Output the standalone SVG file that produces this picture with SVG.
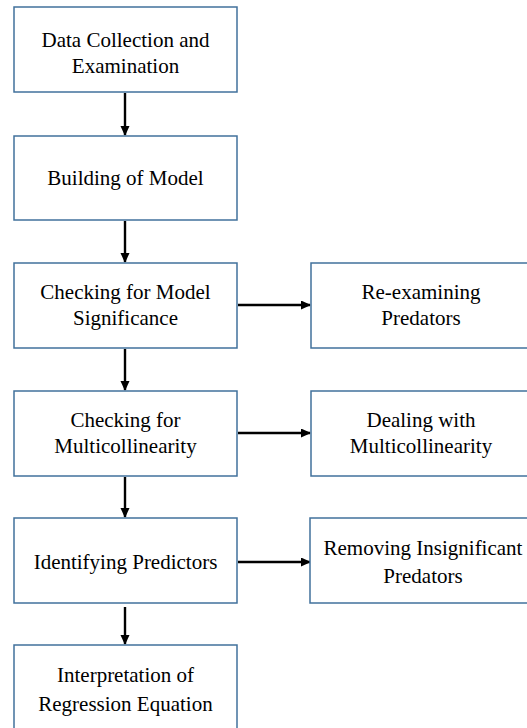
<svg xmlns="http://www.w3.org/2000/svg" width="527" height="728" viewBox="0 0 527 728">
<defs>
<marker id="ah" markerWidth="10" markerHeight="10" refX="9" refY="4.5" orient="auto" markerUnits="userSpaceOnUse">
<path d="M0,0 L10,4.5 L0,9 Z" fill="#000"/>
</marker>
</defs>
<rect width="527" height="728" fill="#fff"/>
<g id="connectors" stroke="#000" stroke-width="2.4" fill="none" marker-end="url(#ah)">
<path d="M125,93 V135"/>
<path d="M125,221 V262"/>
<path d="M125,349 V390"/>
<path d="M125,477 V517"/>
<path d="M125,607 V644"/>
<path d="M238,305 H310"/>
<path d="M238,433 H310"/>
<path d="M238,562 H310"/>
</g>
<g id="n1"><rect fill="#fff" stroke="#41719c" stroke-width="1.5" x="14" y="7" width="223" height="85"/><text font-family="Liberation Serif" font-size="21" text-anchor="middle" x="125.5" y="47">Data Collection and</text><text font-family="Liberation Serif" font-size="21" text-anchor="middle" x="125.5" y="73">Examination</text></g>
<g id="n2"><rect fill="#fff" stroke="#41719c" stroke-width="1.5" x="14" y="136" width="223" height="84"/><text font-family="Liberation Serif" font-size="21" text-anchor="middle" x="125.5" y="185">Building of Model</text></g>
<g id="n3"><rect fill="#fff" stroke="#41719c" stroke-width="1.5" x="14" y="263" width="223" height="85"/><text font-family="Liberation Serif" font-size="21" text-anchor="middle" x="125.5" y="299">Checking for Model</text><text font-family="Liberation Serif" font-size="21" text-anchor="middle" x="125.5" y="325">Significance</text></g>
<g id="n4"><rect fill="#fff" stroke="#41719c" stroke-width="1.5" x="14" y="391" width="223" height="85"/><text font-family="Liberation Serif" font-size="21" text-anchor="middle" x="125.5" y="427">Checking for</text><text font-family="Liberation Serif" font-size="21" text-anchor="middle" x="125.5" y="453">Multicollinearity</text></g>
<g id="n5"><rect fill="#fff" stroke="#41719c" stroke-width="1.5" x="14" y="518" width="223" height="85"/><text font-family="Liberation Serif" font-size="21" text-anchor="middle" x="125.5" y="569">Identifying Predictors</text></g>
<g id="n6"><rect fill="#fff" stroke="#41719c" stroke-width="1.5" x="14" y="645" width="223" height="90"/><text font-family="Liberation Serif" font-size="21" text-anchor="middle" x="125.5" y="682">Interpretation of</text><text font-family="Liberation Serif" font-size="21" text-anchor="middle" x="125.5" y="711">Regression Equation</text></g>
<g id="r1"><rect fill="#fff" stroke="#41719c" stroke-width="1.5" x="311" y="263" width="220" height="85"/><text font-family="Liberation Serif" font-size="21" text-anchor="middle" x="421" y="299">Re-examining</text><text font-family="Liberation Serif" font-size="21" text-anchor="middle" x="421" y="325">Predators</text></g>
<g id="r2"><rect fill="#fff" stroke="#41719c" stroke-width="1.5" x="311" y="391" width="220" height="85"/><text font-family="Liberation Serif" font-size="21" text-anchor="middle" x="421" y="427">Dealing with</text><text font-family="Liberation Serif" font-size="21" text-anchor="middle" x="421" y="453">Multicollinearity</text></g>
<g id="r3"><rect fill="#fff" stroke="#41719c" stroke-width="1.5" x="310" y="518" width="220" height="85"/><text font-family="Liberation Serif" font-size="21" text-anchor="middle" x="423" y="555">Removing Insignificant</text><text font-family="Liberation Serif" font-size="21" text-anchor="middle" x="423" y="583">Predators</text></g>
</svg>
